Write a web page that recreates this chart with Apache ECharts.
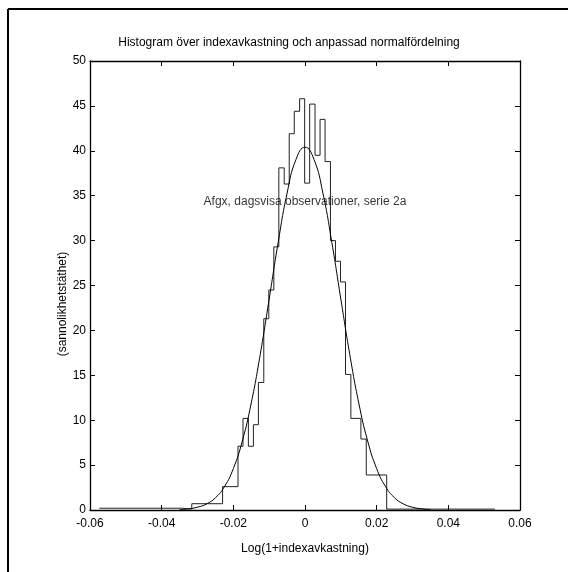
<!DOCTYPE html>
<html>
<head>
<meta charset="utf-8">
<script src="https://cdn.jsdelivr.net/npm/echarts@6/dist/echarts.min.js"></script>
<style>
html,body{margin:0;padding:0;background:#fff;}
#chart{width:568px;height:572px;}
</style>
</head>
<body>
<div id="chart"></div>
<script>
// Histogram bin edges (log return) and density per bin
const binEdges = [-0.0574, -0.0344, -0.0316, -0.0230, -0.0187, -0.0173, -0.0158, -0.0144, -0.0130,
  -0.0115, -0.0101, -0.0087, -0.0073, -0.0058, -0.0044, -0.0030, -0.0015, -0.0001,
  0.0013, 0.0028, 0.0042, 0.0056, 0.0071, 0.0085, 0.0099, 0.0113, 0.0128, 0.0156,
  0.0171, 0.0228, 0.0530];
const binDensity = [0.2, 0.1, 0.7, 2.6, 7.1, 10.2, 7.1, 9.5, 14.2,
  21.3, 24.5, 29.3, 38.1, 36.3, 41.9, 44.4, 45.8,
  36.4, 45.2, 39.5, 43.5, 38.8, 30.0, 27.7, 25.4, 15.1, 10.2,
  7.9, 3.9, 0.1];
// Fitted normal density
const curveX = [-0.035, -0.0325, -0.03, -0.0275, -0.025, -0.0225, -0.02, -0.0175, -0.015, -0.0125,
  -0.01, -0.0075, -0.005, -0.0025, 0, 0.0025, 0.005, 0.0075, 0.01, 0.0125, 0.015, 0.0175,
  0.02, 0.0225, 0.025, 0.0275, 0.03, 0.0325, 0.035];
const curveY = [0.05, 0.13, 0.31, 0.67, 1.36, 2.59, 4.61, 7.67, 11.92, 17.31,
  23.49, 29.77, 35.28, 39.05, 40.4, 39.05, 35.28, 29.77, 23.49, 17.31, 11.92, 7.67,
  4.61, 2.59, 1.36, 0.67, 0.31, 0.13, 0.05];
const xTicks = ['-0.06', '-0.04', '-0.02', '0', '0.02', '0.04', '0.06'];
const titleText = 'Histogram över indexavkastning och anpassad normalfördelning';
const xName = 'Log(1+indexavkastning)';
const yName = '(sannolikhetstäthet)';
const noteText = 'Afgx, dagsvisa observationer, serie 2a';
const notePos = [0, 34.3];

const histPoints = binDensity.map((d, i) => [binEdges[i], d]);
histPoints.push([binEdges[binEdges.length - 1], binDensity[binDensity.length - 1]]);
const curvePoints = curveX.map((x, i) => [x, curveY[i]]);

const FONT = 'Liberation Sans, Arial, sans-serif';
const chart = echarts.init(document.getElementById('chart'), null, {renderer: 'canvas'});
const xFmt = v => xTicks[Math.round((v + 0.06) / 0.02)];
const tickStyle = {show: true, inside: true, length: 5, lineStyle: {color: '#000', width: 1}};
chart.setOption({
  animation: false,
  backgroundColor: '#fff',
  grid: {left: 90, right: 48, top: 61, bottom: 62, show: false},
  xAxis: [{
    type: 'value', min: -0.06, max: 0.06, interval: 0.02, position: 'bottom',
    axisLine: {show: true, onZero: false, lineStyle: {color: '#000', width: 1.3}},
    axisTick: tickStyle, splitLine: {show: false},
    axisLabel: {color: '#000', fontFamily: FONT, fontSize: 12, margin: 8, formatter: xFmt},
    name: xName, nameLocation: 'middle', nameGap: 33,
    nameTextStyle: {color: '#000', fontFamily: FONT, fontSize: 12}
  }, {
    type: 'value', min: -0.06, max: 0.06, interval: 0.02, position: 'top',
    axisLine: {show: true, onZero: false, lineStyle: {color: '#000', width: 1.3}},
    axisTick: tickStyle, axisLabel: {show: false}, splitLine: {show: false}
  }],
  yAxis: [{
    type: 'value', min: 0, max: 50, interval: 5, position: 'left',
    axisLine: {show: true, onZero: false, lineStyle: {color: '#000', width: 1.3}},
    axisTick: tickStyle, splitLine: {show: false},
    axisLabel: {color: '#000', fontFamily: FONT, fontSize: 12, margin: 4}
  }, {
    type: 'value', min: 0, max: 50, interval: 5, position: 'right',
    axisLine: {show: true, onZero: false, lineStyle: {color: '#000', width: 1.3}},
    axisTick: tickStyle, axisLabel: {show: false}, splitLine: {show: false}
  }],
  graphic: [
    {type: 'line', shape: {x1: 8, y1: 9, x2: 568, y2: 9}, style: {stroke: '#000', lineWidth: 2}},
    {type: 'line', shape: {x1: 8, y1: 9, x2: 8, y2: 572}, style: {stroke: '#000', lineWidth: 2}},
    {type: 'text', x: 289, y: 43, style: {text: titleText, fill: '#000', font: '12px ' + FONT, textAlign: 'center', textVerticalAlign: 'middle'}},
    {type: 'text', x: 63, y: 304, rotation: Math.PI / 2, style: {text: yName, fill: '#000', font: '12px ' + FONT, textAlign: 'center', textVerticalAlign: 'middle'}}
  ],
  series: [{
    type: 'line', data: histPoints, step: 'end', showSymbol: false, symbol: 'none',
    lineStyle: {color: '#222', width: 1}, xAxisIndex: 0, yAxisIndex: 0, z: 3
  }, {
    type: 'line', data: curvePoints, smooth: true, showSymbol: false, symbol: 'none',
    lineStyle: {color: '#000', width: 1}, xAxisIndex: 0, yAxisIndex: 0, z: 4
  }, {
    type: 'scatter', data: [notePos], symbolSize: 0, xAxisIndex: 0, yAxisIndex: 0, z: 5,
    label: {show: true, position: 'inside', formatter: noteText, color: '#000', fontFamily: FONT, fontSize: 12},
    silent: true
  }]
});
</script>
</body>
</html>
